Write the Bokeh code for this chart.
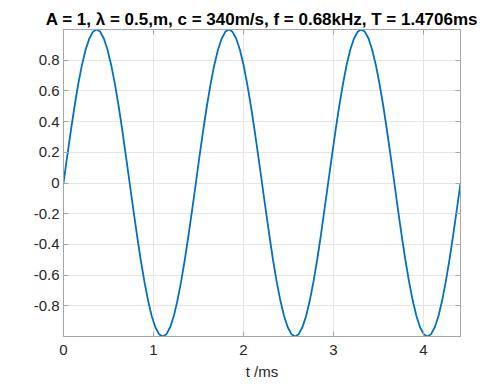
from bokeh.plotting import figure
from bokeh.models import Range1d, FixedTicker, LinearAxis, CustomJSTickFormatter, ColumnDataSource
from bokeh.embed import file_html
from bokeh.resources import INLINE

# Data (t in ms, displacement y)
t_ms = [0.000, 0.041, 0.082, 0.123, 0.163, 0.204, 0.245, 0.286, 0.327, 0.368, 0.409, 0.449,
        0.490, 0.531, 0.572, 0.613, 0.654, 0.694, 0.735, 0.776, 0.817, 0.858, 0.899, 0.940,
        0.980, 1.021, 1.062, 1.103, 1.144, 1.185, 1.226, 1.266, 1.307, 1.348, 1.389, 1.430,
        1.471, 1.511, 1.552, 1.593, 1.634, 1.675, 1.716, 1.757, 1.797, 1.838, 1.879, 1.920,
        1.961, 2.002, 2.042, 2.083, 2.124, 2.165, 2.206, 2.247, 2.288, 2.328, 2.369, 2.410,
        2.451, 2.492, 2.533, 2.574, 2.614, 2.655, 2.696, 2.737, 2.778, 2.819, 2.860, 2.900,
        2.941, 2.982, 3.023, 3.064, 3.105, 3.145, 3.186, 3.227, 3.268, 3.309, 3.350, 3.391,
        3.431, 3.472, 3.513, 3.554, 3.595, 3.636, 3.677, 3.717, 3.758, 3.799, 3.840, 3.881,
        3.922, 3.962, 4.003, 4.044, 4.085, 4.126, 4.167, 4.208, 4.248, 4.289, 4.330, 4.371,
        4.412]
y_vals = [0.000, 0.174, 0.342, 0.500, 0.643, 0.766, 0.866, 0.940, 0.985, 1.000, 0.985, 0.940,
          0.866, 0.766, 0.643, 0.500, 0.342, 0.174, 0.000, -0.174, -0.342, -0.500, -0.643, -0.766,
          -0.866, -0.940, -0.985, -1.000, -0.985, -0.940, -0.866, -0.766, -0.643, -0.500, -0.342, -0.174,
          0.000, 0.174, 0.342, 0.500, 0.643, 0.766, 0.866, 0.940, 0.985, 1.000, 0.985, 0.940,
          0.866, 0.766, 0.643, 0.500, 0.342, 0.174, 0.000, -0.174, -0.342, -0.500, -0.643, -0.766,
          -0.866, -0.940, -0.985, -1.000, -0.985, -0.940, -0.866, -0.766, -0.643, -0.500, -0.342, -0.174,
          0.000, 0.174, 0.342, 0.500, 0.643, 0.766, 0.866, 0.940, 0.985, 1.000, 0.985, 0.940,
          0.866, 0.766, 0.643, 0.500, 0.342, 0.174, 0.000, -0.174, -0.342, -0.500, -0.643, -0.766,
          -0.866, -0.940, -0.985, -1.000, -0.985, -0.940, -0.866, -0.766, -0.643, -0.500, -0.342, -0.174,
          0.000]
x_ticks = [0, 1, 2, 3, 4]
y_ticks = [-0.8, -0.6, -0.4, -0.2, 0, 0.2, 0.4, 0.6, 0.8]
x_limits = [0, 4.4118]
y_limits = [-1, 1]
title_text = "A = 1, λ = 0.5,m, c = 340m/s, f = 0.68kHz, T = 1.4706ms"
x_label = "t /ms"

FONT = "Liberation Sans"
AX_COL = "#a6a6a6"
LBL_COL = "#262626"

p = figure(width=482, height=384, output_backend="svg", toolbar_location=None,
           x_range=Range1d(*x_limits), y_range=Range1d(*y_limits),
           min_border_left=63, min_border_right=22, min_border_top=29, min_border_bottom=48)
p.background_fill_color = "white"
p.border_fill_color = "white"
p.outline_line_color = AX_COL

p.title.text = title_text
p.title.align = "center"
p.title.text_font = FONT
p.title.text_font_size = "17px"
p.title.text_font_style = "bold"
p.title.text_color = "black"
p.title.standoff = 2

fmt = CustomJSTickFormatter(code="return tick == 0 ? '0' : (Number.isInteger(tick) ? tick.toString() : tick.toFixed(1));")
blank = CustomJSTickFormatter(code="return '';")

for ax in [p.xaxis[0], p.yaxis[0]]:
    ax.axis_line_color = AX_COL
    ax.major_tick_line_color = AX_COL
    ax.major_tick_in = 5
    ax.major_tick_out = 0
    ax.minor_tick_line_color = None
    ax.major_label_text_font = FONT
    ax.major_label_text_font_size = "15px"
    ax.major_label_text_color = LBL_COL
    ax.formatter = fmt

p.xaxis[0].ticker = FixedTicker(ticks=x_ticks)
p.yaxis[0].ticker = FixedTicker(ticks=y_ticks)
p.xaxis[0].major_label_standoff = 8
p.yaxis[0].major_label_standoff = 4
p.xaxis[0].axis_label = x_label
p.xaxis[0].axis_label_text_font = FONT
p.xaxis[0].axis_label_text_font_size = "15px"
p.xaxis[0].axis_label_text_font_style = "normal"
p.xaxis[0].axis_label_text_color = LBL_COL
p.xaxis[0].axis_label_standoff = 5

# box ticks on top and right (no labels)
top = LinearAxis(ticker=FixedTicker(ticks=x_ticks), formatter=blank,
                 axis_line_color=AX_COL, major_tick_line_color=AX_COL, major_tick_in=5,
                 major_tick_out=0, minor_tick_line_color=None, major_label_standoff=0)
right = LinearAxis(ticker=FixedTicker(ticks=y_ticks), formatter=blank,
                   axis_line_color=AX_COL, major_tick_line_color=AX_COL, major_tick_in=5,
                   major_tick_out=0, minor_tick_line_color=None, major_label_standoff=0)
p.add_layout(top, "above")
p.add_layout(right, "right")

p.xgrid.ticker = FixedTicker(ticks=x_ticks)
p.ygrid.ticker = FixedTicker(ticks=y_ticks)
p.xgrid.grid_line_color = "#e6e6e6"
p.ygrid.grid_line_color = "#e6e6e6"

src = ColumnDataSource(dict(t=t_ms, y=y_vals))
p.line("t", "y", source=src, line_color="#0072BD", line_width=1.8)

open("out.html", "w").write(file_html(p, INLINE))
